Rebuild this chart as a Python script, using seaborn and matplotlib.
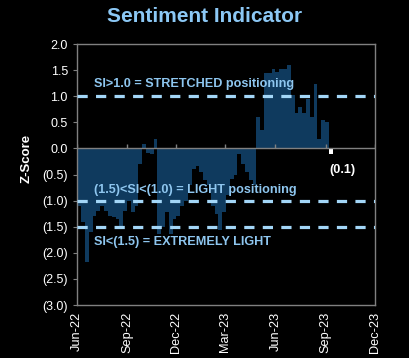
import pandas as pd
import numpy as np
import matplotlib
matplotlib.use("Agg")
import matplotlib.pyplot as plt
import matplotlib.dates as mdates
import matplotlib.ticker as mticker
import seaborn as sns

# weekly sentiment z-score
start = "2022-06-02"
zscore = [-1.1, -1.4, -2.18, -1.6, -1.3, -1.2, -1.1, -1.2, -1.3, -1.32,
          -1.35, -1.48, -1.2, -1.0, -1.22, -1.1, -0.3, 0.08, -0.08, -0.1,
          0.18, -1.64, -1.5, -1.22, -1.64, -1.35, -1.29, -1.1, -1.0, -0.7,
          -0.4, -0.33, -0.46, -0.6, -0.71, -1.1, -1.25, -1.57, -1.22, -0.9,
          -0.59, -0.5, -0.11, -0.3, -0.46, -0.6, -0.71, 0.6, 0.35, 1.45,
          1.45, 1.52, 1.47, 1.53, 1.52, 1.6, 1.02, 0.67, 0.8, 0.67,
          0.95, 0.6, 1.24, 0.19, 0.54, 0.5, -0.1]
dates = pd.date_range(start, periods=len(zscore), freq="7D")

thresholds = [1.0, -1.0, -1.5]
labels = ["SI>1.0 = STRETCHED positioning",
          "(1.5)<SI<(1.0) = LIGHT positioning",
          "SI<(1.5) = EXTREMELY LIGHT"]
label_y = [1.23, -0.79, -1.79]
tick_dates = pd.date_range("2022-06-01", "2023-12-01", freq="3MS")

df = pd.DataFrame({"date": dates, "z": zscore})

sns.set_style("dark")
plt.rcParams["font.family"] = ["Liberation Sans", "DejaVu Sans"]

fig = plt.figure(figsize=(4.09, 3.58), dpi=100, facecolor="black")
ax = fig.add_axes([0.188, 0.148, 0.729, 0.729])
ax.set_facecolor("black")

cols = ["#0f3a5e"] * (len(df) - 1) + ["white"]
ax.bar(df["date"], df["z"], width=7, color=cols, align="edge", linewidth=0)

ax.axhline(0, color="#808080", lw=1, zorder=3)
ax.plot(tick_dates, np.zeros(len(tick_dates)), ls="none", marker=2,
        markersize=3, color="#808080", zorder=3)

for t in thresholds:
    ax.axhline(t, color="#a3d6f7", lw=2.3, dashes=(3.2, 2.6), zorder=4)

for txt, y in zip(labels, label_y):
    ax.text(pd.Timestamp("2022-07-02"), y, txt, color="#8ec6ef",
            fontsize=9.1, fontweight="bold", va="center", ha="left", zorder=5)

ax.text(df["date"].iloc[-1] + pd.Timedelta(days=1), -0.42, "(0.1)",
        color="white", fontsize=9.1, fontweight="bold", ha="left", va="center")

ax.set_xlim(pd.Timestamp("2022-06-01"), pd.Timestamp("2023-12-01"))
ax.set_ylim(-3.0, 2.0)
ax.set_xticks(tick_dates)
ax.xaxis.set_major_formatter(mdates.DateFormatter("%b-%y"))
ax.set_yticks(np.arange(-3.0, 2.01, 0.5))
ax.yaxis.set_major_formatter(mticker.FuncFormatter(
    lambda v, p: f"({abs(v):.1f})" if v < -1e-9 else f"{v:.1f}"))
ax.tick_params(axis="x", colors="white", labelsize=9.2, rotation=90,
               length=0, pad=5)
ax.tick_params(axis="y", colors="white", labelsize=9, length=3,
               direction="out", left=True, color="#808080")
for s in ax.spines.values():
    s.set_color("#808080")
    s.set_linewidth(1)
ax.grid(False)

ax.set_ylabel("Z-Score", color="white", fontsize=9.5, fontweight="bold")
ax.yaxis.set_label_coords(-0.148, 0.56)
fig.suptitle("Sentiment Indicator", color="#8cc8f5", fontsize=15,
             fontweight="bold", y=0.98)

fig.savefig("out.png", dpi=100, facecolor="black")
